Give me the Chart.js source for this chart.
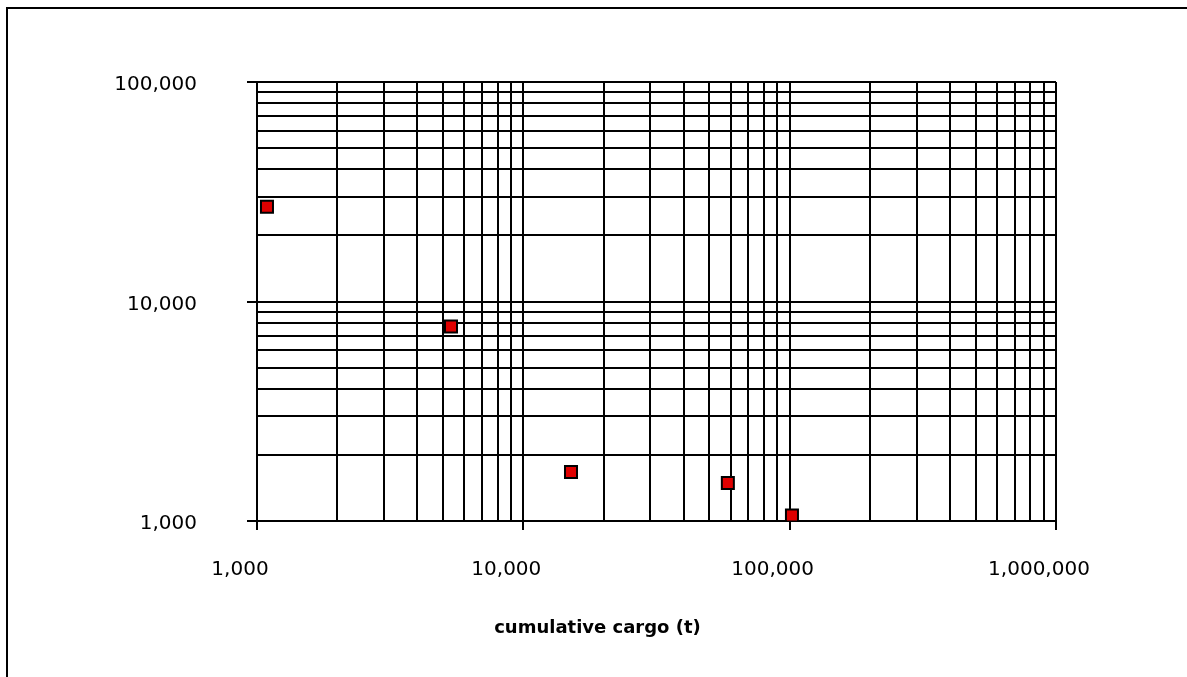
<!DOCTYPE html>
<html>
<head>
<meta charset="utf-8">
<script src="https://cdn.jsdelivr.net/npm/chart.js@4.4.0/dist/chart.umd.min.js"></script>
<style>
  html, body { margin: 0; padding: 0; background: #fff; overflow: hidden; }
  #frame { position: absolute; left: 6px; top: 7px; width: 1300px; height: 800px; border: 2px solid #000; }
  #myChart { position: absolute; left: 0; top: 0; }
</style>
</head>
<body>
<div id="frame"></div>
<canvas id="myChart" width="1187" height="677"></canvas>
<script>
// 散布點：累計貨量 (t) 與對應數值
const cargo = [1090, 5350, 15100, 58600, 102000];
const values = [27000, 7700, 1670, 1490, 1060];

// 對數軸的刻度與標籤
const xDecades = [1000, 10000, 100000, 1000000];
const yDecades = [1000, 10000, 100000];
const xTickLabels = ['1,000', '10,000', '100,000', '1,000,000'];
const yTickLabels = ['1,000', '10,000', '100,000'];
const minorSteps = [2, 3, 4, 5, 6, 7, 8, 9];
const xTitle = 'cumulative cargo (t)';

// 每個數量級內 1~9 倍的格線
function gridValues(decades) {
    const out = [];
    decades.forEach((d, i) => {
        out.push(d);
        if (i < decades.length - 1) minorSteps.forEach(m => out.push(d * m));
    });
    return out;
}

function logAxis(decades, labels, extra) {
    return Object.assign({
        type: 'logarithmic',
        min: decades[0],
        max: decades[decades.length - 1],
        afterBuildTicks: (scale) => {
            scale.ticks = gridValues(decades).map(v => ({ value: v, major: decades.includes(v) }));
        },
        grid: {
            color: '#000',
            lineWidth: 2,
            tickWidth: 2,
            tickColor: (ctx) => (ctx.tick && ctx.tick.major ? '#000' : 'rgba(0,0,0,0)')
        },
        border: { color: '#000', width: 2 },
        ticks: {
            autoSkip: false,
            maxRotation: 0,
            minRotation: 0,
            color: '#000',
            font: { family: '"DejaVu Sans", sans-serif', size: 20 },
            callback: (value) => {
                const i = decades.indexOf(value);
                return i >= 0 ? labels[i] : '';
            }
        }
    }, extra);
}

const xAxis = logAxis(xDecades, xTickLabels, {
    afterFit: (scale) => { scale.height = 156; }
});
xAxis.grid.tickLength = 9;
xAxis.ticks.padding = 28;
xAxis.ticks.labelOffset = -17;

const yAxis = logAxis(yDecades, yTickLabels, {
    afterFit: (scale) => { scale.width = 257; }
});
yAxis.grid.tickLength = 10;
yAxis.ticks.padding = 50;
yAxis.ticks.labelOffset = 3;

// 橫軸說明文字
const axisCaption = {
    id: 'axisCaption',
    afterDraw(chart) {
        const ctx = chart.ctx;
        ctx.save();
        ctx.font = 'bold 18px "DejaVu Sans", sans-serif';
        ctx.fillStyle = '#000';
        ctx.textAlign = 'center';
        ctx.textBaseline = 'alphabetic';
        ctx.fillText(xTitle, chart.width / 2 + 4, 633);
        ctx.restore();
    }
};

const ctx = document.getElementById('myChart').getContext('2d');
new Chart(ctx, {
    type: 'scatter',
    data: {
        datasets: [{
            data: cargo.map((c, i) => ({ x: c, y: values[i] })),
            pointStyle: 'rect',
            pointRadius: 8.5,
            pointHoverRadius: 8.5,
            backgroundColor: '#e00000',
            borderColor: '#000',
            borderWidth: 2
        }]
    },
    options: {
        responsive: false,
        animation: false,
        layout: { padding: { top: 82, right: 131, left: 0, bottom: 0 } },
        plugins: {
            legend: { display: false },
            tooltip: { enabled: false }
        },
        scales: { x: xAxis, y: yAxis }
    },
    plugins: [axisCaption]
});
</script>
</body>
</html>
